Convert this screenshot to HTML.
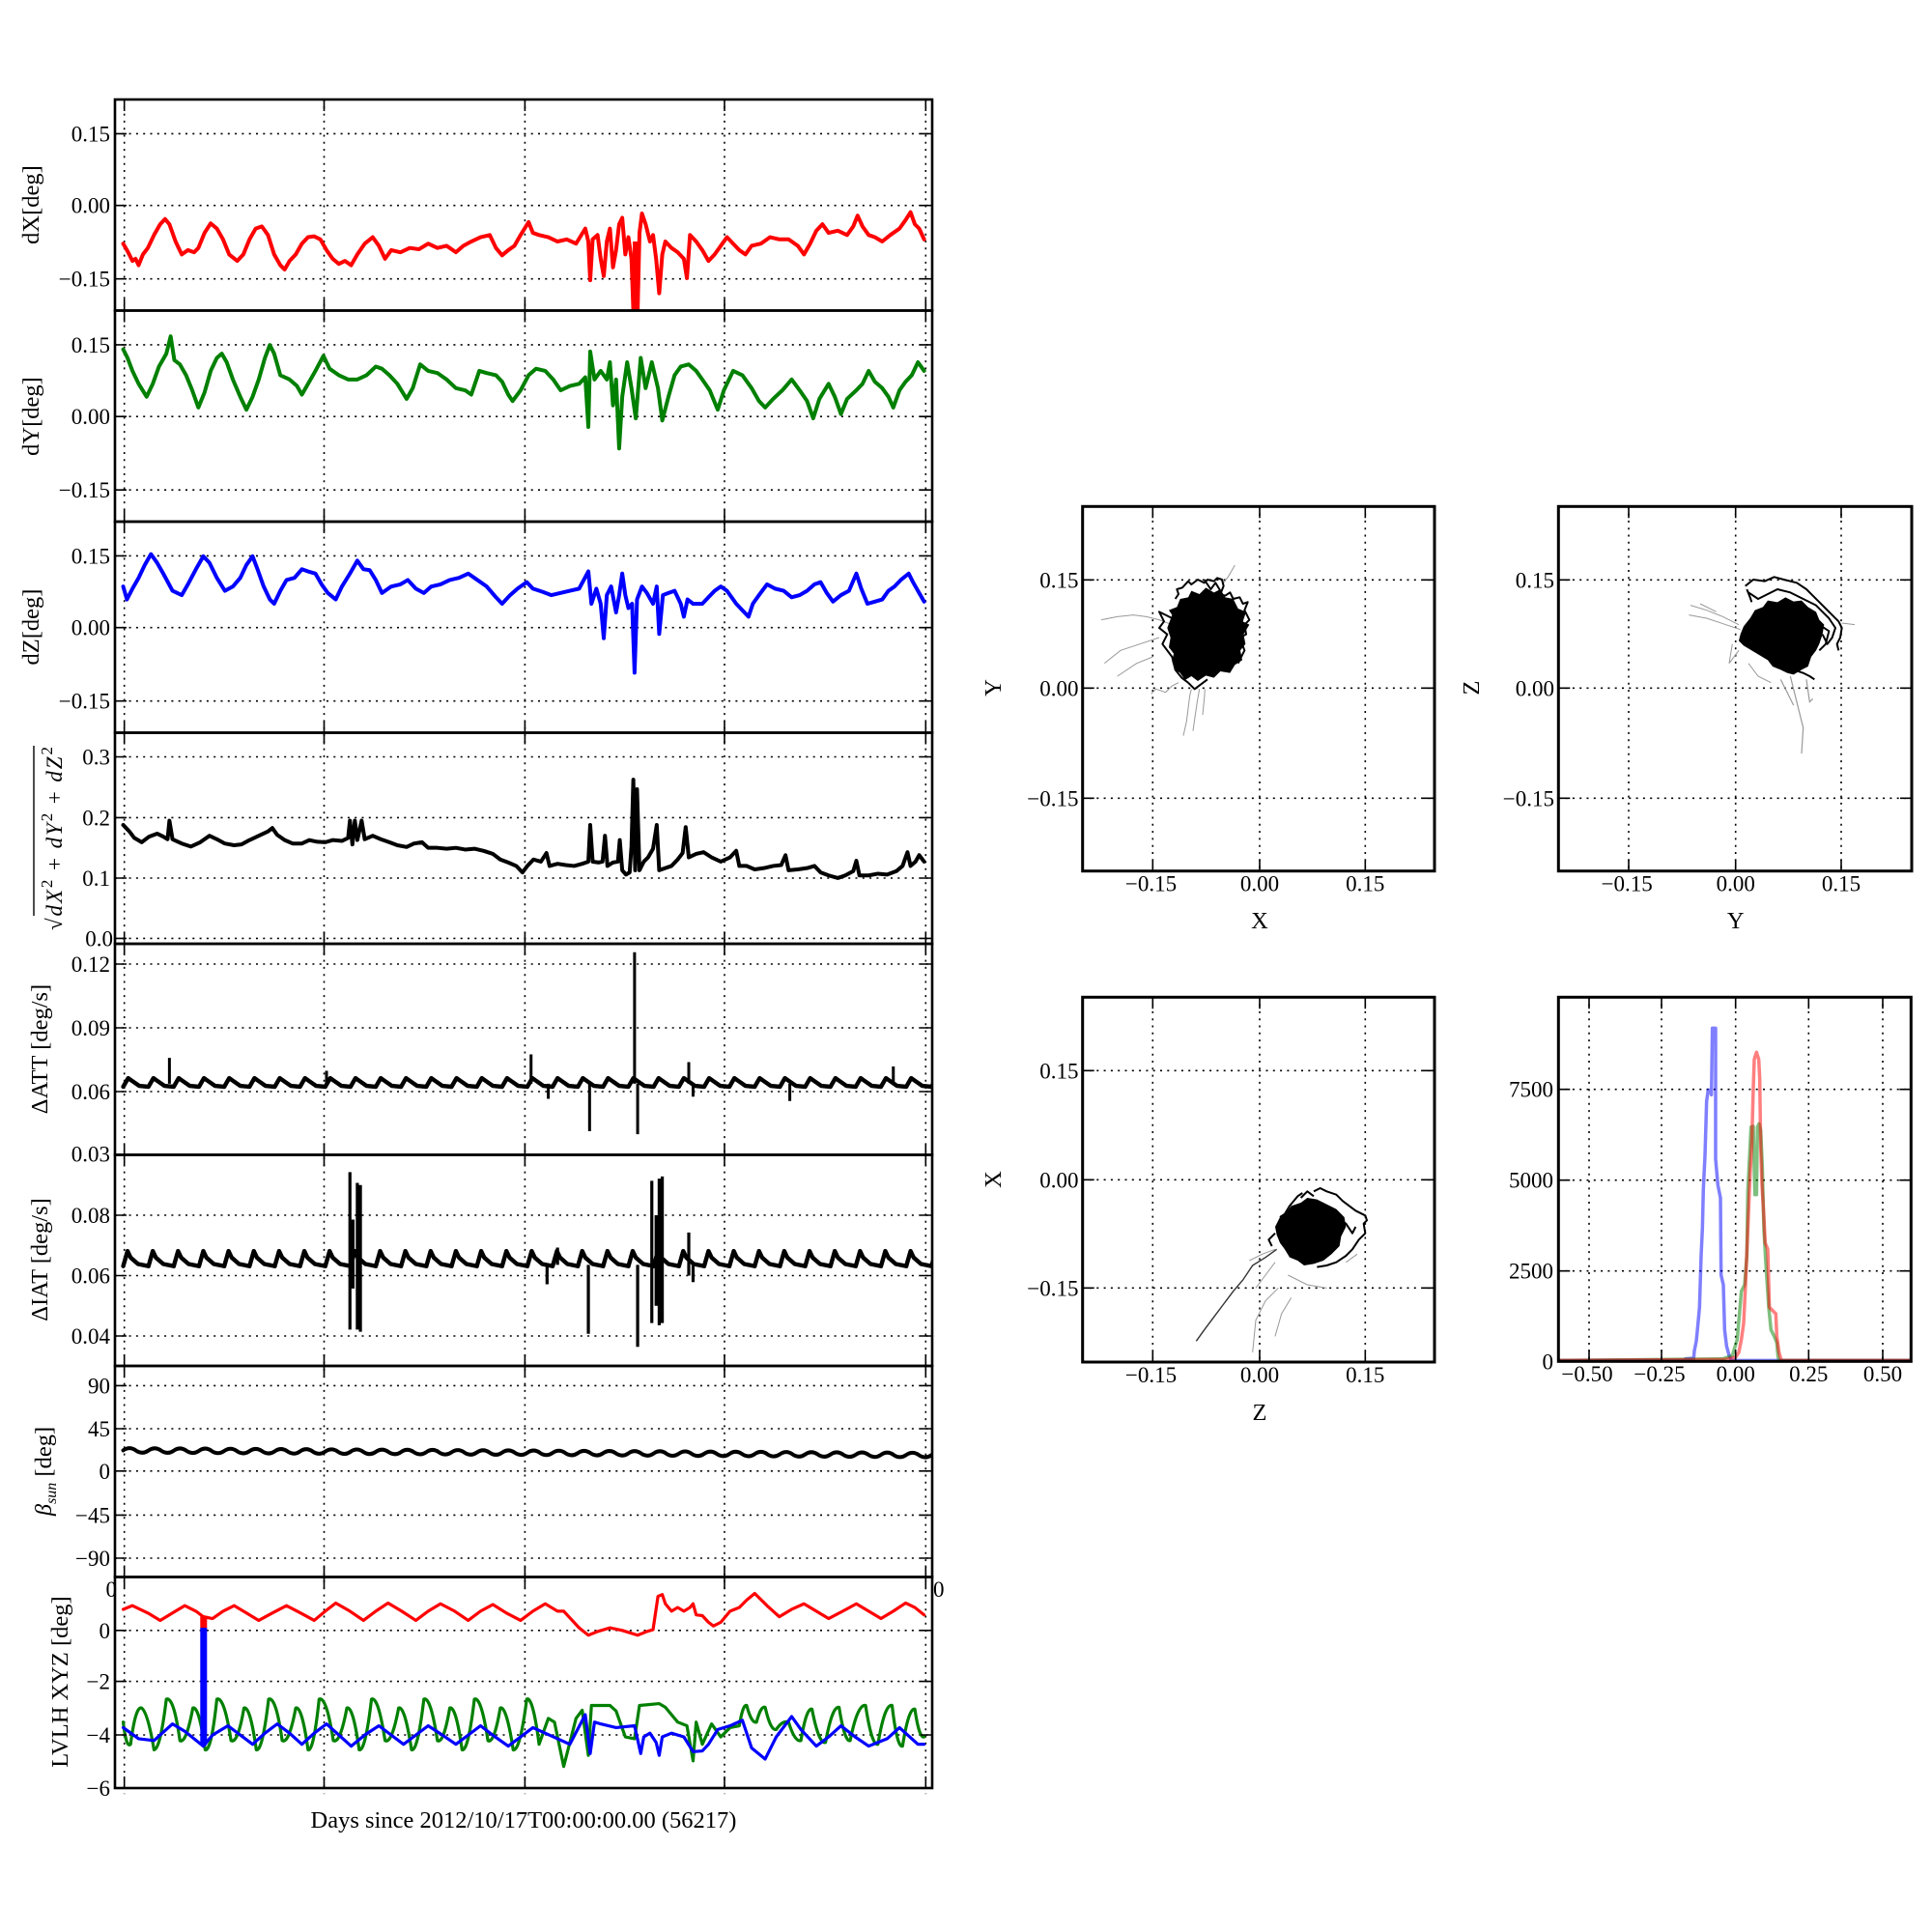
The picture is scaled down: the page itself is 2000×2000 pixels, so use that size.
<!DOCTYPE html>
<html><head><meta charset="utf-8"><style>
html,body{margin:0;padding:0;background:#fff;}
svg{display:block;}
text{font-family:"Liberation Serif","DejaVu Serif",serif;font-size:23px;fill:#000;}
.lb{font-size:24.5px;}
.g{stroke:#000;stroke-width:1.6;stroke-dasharray:2 5.3;fill:none;}
.fr{fill:none;stroke:#000;stroke-width:2.6;}
.tk{stroke:#000;stroke-width:1.6;fill:none;}
.s{fill:none;stroke-linejoin:round;stroke-linecap:round;}
</style></head><body>
<svg width="2000" height="2000" viewBox="0 0 2000 2000" xmlns="http://www.w3.org/2000/svg">
<defs>
<clipPath id="c1"><rect x="119" y="103" width="846" height="218.5"/></clipPath>
<clipPath id="c2"><rect x="119" y="321.5" width="846" height="218.5"/></clipPath>
<clipPath id="c3"><rect x="119" y="540" width="846" height="218.5"/></clipPath>
<clipPath id="c4"><rect x="119" y="758.5" width="846" height="218.5"/></clipPath>
<clipPath id="c5"><rect x="119" y="977" width="846" height="218.5"/></clipPath>
<clipPath id="c6"><rect x="119" y="1195.5" width="846" height="218.5"/></clipPath>
<clipPath id="c7"><rect x="119" y="1414" width="846" height="218.5"/></clipPath>
<clipPath id="c8"><rect x="119" y="1632.5" width="846" height="218.5"/></clipPath>
<clipPath id="cxy"><rect x="1120.7" y="524.3" width="364.3" height="377.4"/></clipPath>
<clipPath id="cyz"><rect x="1613.3" y="524.3" width="365.7" height="377.4"/></clipPath>
<clipPath id="czx"><rect x="1120.7" y="1032.3" width="364.3" height="377.7"/></clipPath>
<clipPath id="ch"><rect x="1613.3" y="1032.3" width="365" height="377"/></clipPath>
</defs>

<!-- ===== MAIN GRIDS ===== -->
<path class="g" d="M128.7,103V1851 M335.5,103V1851 M543.4,103V1851 M750,103V1851 M958.3,103V1851"/>
<path class="g" d="M119,138.4H965 M119,212.7H965 M119,288.7H965 M119,356.9H965 M119,431.2H965 M119,507.2H965 M119,575.4H965 M119,649.7H965 M119,725.7H965 M119,783.5H965 M119,846.4H965 M119,909H965 M119,971.4H965 M119,998H965 M119,1064H965 M119,1130H965 M119,1258H965 M119,1320.5H965 M119,1383H965 M119,1434.4H965 M119,1479H965 M119,1522.8H965 M119,1568.4H965 M119,1613H965 M119,1687.8H965 M119,1740.6H965 M119,1796H965"/>

<!-- ===== SERIES ===== -->
<g clip-path="url(#c1)"><g transform="scale(0.63776,0.44643)">
<path class="s" vector-effect="non-scaling-stroke" stroke="#ff0000" stroke-width="4" d="M200,565 L208,585 L215,605 L220,600 L225,615 L232,590 L240,575 L250,545 L260,520 L268,508 L275,520 L285,560 L295,590 L305,580 L315,585 L322,575 L332,540 L342,518 L352,530 L362,555 L372,590 L385,605 L395,590 L405,555 L415,530 L425,525 L435,545 L445,590 L455,615 L462,625 L470,605 L480,590 L490,565 L500,550 L510,548 L520,555 L530,580 L540,600 L550,612 L560,605 L570,615 L580,590 L592,565 L605,550 L615,570 L625,600 L635,580 L650,585 L665,575 L680,578 L695,565 L710,575 L725,570 L740,585 L752,570 L765,560 L780,550 L795,545 L805,575 L815,592 L825,580 L835,570 L845,545 L858,515 L865,540 L875,545 L890,550 L905,560 L920,555 L935,565 L950,530 L955,560 L958,650 L962,555 L970,545 L975,600 L980,640 L985,560 L990,530 L995,620 L1000,580 L1005,520 L1010,505 L1015,590 L1020,550 L1025,600 L1028,720 L1035,720 L1038,540 L1042,495 L1048,520 L1055,560 L1060,545 L1065,600 L1070,680 L1075,590 L1080,560 L1090,575 L1100,585 L1110,600 L1115,645 L1120,545 L1130,560 L1140,580 L1150,605 L1160,590 L1170,570 L1180,550 L1190,565 L1200,580 L1210,590 L1220,570 L1235,565 L1250,550 L1265,555 L1280,555 L1295,570 L1305,590 L1315,565 L1325,535 L1335,520 L1345,540 L1360,535 L1375,545 L1385,525 L1392,500 L1400,525 L1410,545 L1420,550 L1432,560 L1445,545 L1460,530 L1470,510 L1478,492 L1485,520 L1492,530 L1500,555"/>
<path vector-effect="non-scaling-stroke" stroke="#ff0000" stroke-width="5" d="M1031,560V720"/>
</g></g>

<g clip-path="url(#c2)"><g transform="scale(0.63776,0.44643)">
<path class="s" vector-effect="non-scaling-stroke" stroke="#008000" stroke-width="4" d="M200,810 L207,830 L215,860 L225,890 L238,920 L248,890 L258,850 L270,820 L277,780 L283,835 L292,845 L302,870 L312,905 L322,945 L332,910 L342,860 L352,830 L360,820 L368,840 L378,880 L390,920 L400,950 L410,920 L420,880 L430,830 L438,800 L445,820 L455,870 L470,880 L482,895 L490,915 L500,890 L512,860 L525,825 L535,855 L550,870 L565,880 L580,880 L595,870 L610,850 L620,855 L632,870 L645,890 L660,925 L670,900 L682,845 L695,860 L710,865 L725,880 L740,900 L755,905 L765,915 L778,860 L790,865 L805,870 L815,885 L825,915 L832,930 L845,905 L858,870 L870,855 L885,860 L898,880 L910,905 L925,895 L940,890 L950,875 L955,990 L958,815 L965,880 L975,860 L985,880 L990,840 L995,940 L1000,880 L1005,1040 L1010,920 L1018,840 L1025,900 L1032,970 L1040,830 L1048,900 L1058,840 L1068,900 L1075,975 L1085,920 L1095,870 L1105,850 L1118,845 L1130,860 L1140,880 L1152,905 L1165,950 L1175,905 L1190,860 L1205,870 L1220,900 L1232,930 L1242,945 L1255,925 L1270,905 L1285,880 L1298,905 L1310,930 L1320,970 L1330,925 L1345,890 L1355,920 L1365,960 L1375,925 L1390,905 L1400,890 L1410,860 L1420,885 L1432,900 L1442,920 L1450,945 L1460,905 L1470,885 L1480,870 L1490,840 L1500,860"/>
</g></g>

<g clip-path="url(#c3)"><g transform="scale(0.63776,0.44643)">
<path class="s" vector-effect="non-scaling-stroke" stroke="#0000ff" stroke-width="4" d="M200,1360 L206,1390 L215,1365 L225,1340 L235,1310 L245,1285 L255,1305 L265,1330 L280,1370 L295,1380 L305,1355 L318,1320 L330,1290 L340,1305 L352,1340 L365,1370 L378,1360 L390,1340 L400,1310 L410,1290 L418,1320 L428,1360 L438,1390 L445,1400 L455,1370 L465,1345 L478,1340 L490,1320 L500,1325 L512,1330 L522,1355 L532,1375 L545,1390 L555,1360 L568,1330 L580,1300 L590,1320 L600,1322 L610,1345 L620,1375 L635,1360 L650,1355 L662,1345 L675,1365 L688,1375 L700,1360 L715,1355 L730,1345 L745,1340 L760,1330 L775,1345 L790,1360 L805,1385 L815,1400 L828,1380 L840,1365 L855,1350 L865,1365 L880,1372 L895,1380 L910,1375 L925,1370 L940,1365 L955,1325 L960,1400 L968,1365 L975,1400 L980,1480 L985,1380 L992,1360 L1000,1420 L1005,1380 L1010,1330 L1015,1380 L1020,1410 L1026,1400 L1030,1560 L1034,1390 L1042,1360 L1050,1375 L1060,1400 L1066,1360 L1070,1470 L1076,1380 L1085,1375 L1095,1370 L1105,1400 L1110,1430 L1116,1390 L1125,1400 L1140,1400 L1150,1385 L1160,1370 L1170,1360 L1180,1370 L1195,1400 L1205,1415 L1215,1430 L1222,1400 L1232,1380 L1245,1355 L1258,1365 L1272,1370 L1285,1385 L1298,1380 L1310,1370 L1322,1355 L1332,1350 L1342,1375 L1352,1395 L1365,1380 L1378,1370 L1390,1330 L1398,1365 L1408,1400 L1420,1395 L1432,1390 L1442,1370 L1452,1360 L1462,1345 L1475,1330 L1482,1350 L1492,1375 L1500,1395"/>
</g></g>

<g clip-path="url(#c4)"><g transform="translate(0,700) scale(0.63776,0.44643)">
<path class="s" vector-effect="non-scaling-stroke" stroke="#000" stroke-width="4" d="M200,345 L210,360 L218,375 L230,385 L242,372 L255,365 L265,372 L272,378 L275,335 L280,378 L295,388 L310,395 L325,385 L340,370 L352,378 L365,388 L380,392 L392,390 L405,380 L420,370 L435,360 L442,352 L450,368 L462,380 L475,388 L490,388 L502,380 L515,384 L528,385 L540,380 L555,382 L565,375 L568,335 L572,390 L576,335 L580,380 L587,335 L592,378 L605,370 L618,378 L632,385 L645,392 L660,396 L672,388 L685,385 L695,398 L710,398 L725,400 L740,398 L755,402 L770,400 L785,405 L800,412 L812,425 L825,432 L838,440 L848,455 L856,440 L866,425 L878,430 L887,410 L892,440 L905,435 L918,438 L932,440 L945,435 L955,430 L958,345 L962,430 L972,432 L978,430 L982,370 L986,440 L995,432 L1003,430 L1006,380 L1010,450 L1016,460 L1022,455 L1025,395 L1028,240 L1031,450 L1034,262 L1038,450 L1045,430 L1052,420 L1060,400 L1066,345 L1070,450 L1080,445 L1090,440 L1100,425 L1108,410 L1113,350 L1118,420 L1130,412 L1142,408 L1155,420 L1170,430 L1185,420 L1195,405 L1200,440 L1212,440 L1225,448 L1240,445 L1255,440 L1268,438 L1275,415 L1280,450 L1295,448 L1310,445 L1322,440 L1332,455 L1345,462 L1360,468 L1372,462 L1385,452 L1390,428 L1395,462 L1410,462 L1425,458 L1440,460 L1455,452 L1465,440 L1473,408 L1478,440 L1486,430 L1492,415 L1500,430"/>
</g></g>

<g clip-path="url(#c5)"><g transform="translate(0,700) scale(0.63776,0.44643)">
<path class="s" vector-effect="non-scaling-stroke" stroke="#000" stroke-width="4.4" d="M200,952 l8,-20 l6,6 l12,12 l15,2 l8,-20 l6,6 l12,12 l15,2 l8,-20 l6,6 l12,12 l15,2 l8,-20 l6,6 l12,12 l15,2 l8,-20 l6,6 l12,12 l15,2 l8,-20 l6,6 l12,12 l15,2 l8,-20 l6,6 l12,12 l15,2 l8,-20 l6,6 l12,12 l15,2 l8,-20 l6,6 l12,12 l15,2 l8,-20 l6,6 l12,12 l15,2 l8,-20 l6,6 l12,12 l15,2 l8,-20 l6,6 l12,12 l15,2 l8,-20 l6,6 l12,12 l15,2 l8,-20 l6,6 l12,12 l15,2 l8,-20 l6,6 l12,12 l15,2 l8,-20 l6,6 l12,12 l15,2 l8,-20 l6,6 l12,12 l15,2 l8,-20 l6,6 l12,12 l15,2 l8,-20 l6,6 l12,12 l15,2 l8,-20 l6,6 l12,12 l15,2 l8,-20 l6,6 l12,12 l15,2 l8,-20 l6,6 l12,12 l15,2 l8,-20 l6,6 l12,12 l15,2 l8,-20 l6,6 l12,12 l15,2 l8,-20 l6,6 l12,12 l15,2 l8,-20 l6,6 l12,12 l15,2 l8,-20 l6,6 l12,12 l15,2 l8,-20 l6,6 l12,12 l15,2 l8,-20 l6,6 l12,12 l15,2 l8,-20 l6,6 l12,12 l15,2 l8,-20 l6,6 l12,12 l15,2 l8,-20 l6,6 l12,12 l15,2 l8,-20 l6,6 l12,12 l15,2"/>
<path vector-effect="non-scaling-stroke" stroke="#000" stroke-width="3" fill="none" d="M275,945V885 M530,945V915 M862,945V877 M890,945V980 M957,945V1055 M1030,945V640 M1035,945V1062 M1118,945V895 M1125,945V975 M1282,945V985 M1450,945V905"/>
</g></g>

<g clip-path="url(#c6)"><g transform="translate(0,700) scale(0.63776,0.44643)">
<path class="s" vector-effect="non-scaling-stroke" stroke="#000" stroke-width="4.4" d="M200,1368 l7,-35 l5,15 l12,15 l17,5 l7,-35 l5,15 l12,15 l17,5 l7,-35 l5,15 l12,15 l17,5 l7,-35 l5,15 l12,15 l17,5 l7,-35 l5,15 l12,15 l17,5 l7,-35 l5,15 l12,15 l17,5 l7,-35 l5,15 l12,15 l17,5 l7,-35 l5,15 l12,15 l17,5 l7,-35 l5,15 l12,15 l17,5 l7,-35 l5,15 l12,15 l17,5 l7,-35 l5,15 l12,15 l17,5 l7,-35 l5,15 l12,15 l17,5 l7,-35 l5,15 l12,15 l17,5 l7,-35 l5,15 l12,15 l17,5 l7,-35 l5,15 l12,15 l17,5 l7,-35 l5,15 l12,15 l17,5 l7,-35 l5,15 l12,15 l17,5 l7,-35 l5,15 l12,15 l17,5 l7,-35 l5,15 l12,15 l17,5 l7,-35 l5,15 l12,15 l17,5 l7,-35 l5,15 l12,15 l17,5 l7,-35 l5,15 l12,15 l17,5 l7,-35 l5,15 l12,15 l17,5 l7,-35 l5,15 l12,15 l17,5 l7,-35 l5,15 l12,15 l17,5 l7,-35 l5,15 l12,15 l17,5 l7,-35 l5,15 l12,15 l17,5 l7,-35 l5,15 l12,15 l17,5 l7,-35 l5,15 l12,15 l17,5 l7,-35 l5,15 l12,15 l17,5 l7,-35 l5,15 l12,15 l17,5 l7,-35 l5,15 l12,15 l17,5 l7,-35 l5,15 l12,15 l17,5 l7,-35 l5,15 l12,15 l17,5"/>
<path vector-effect="non-scaling-stroke" stroke="#000" stroke-width="3.2" fill="none" d="M568,1150V1515 M573,1260V1420 M580,1175V1515 M585,1180V1520 M888,1365V1410 M905,1365V1325 M955,1365V1525 M1035,1365V1555 M1058,1170V1500 M1065,1250V1460 M1070,1165V1505 M1075,1160V1500 M1118,1290V1390 M1125,1365V1405"/>
</g></g>

<g clip-path="url(#c7)"><g transform="translate(0,1400) scale(0.63776,0.38270)">
<path class="s" vector-effect="non-scaling-stroke" stroke="#000" stroke-width="4" d="M200,265 q10.25,-12 20.5,0.2 q10.25,12 20.5,0.2 q10.25,-12 20.5,0.2 q10.25,12 20.5,0.2 q10.25,-12 20.5,0.2 q10.25,12 20.5,0.2 q10.25,-12 20.5,0.2 q10.25,12 20.5,0.2 q10.25,-12 20.5,0.2 q10.25,12 20.5,0.2 q10.25,-12 20.5,0.2 q10.25,12 20.5,0.2 q10.25,-12 20.5,0.2 q10.25,12 20.5,0.2 q10.25,-12 20.5,0.2 q10.25,12 20.5,0.2 q10.25,-12 20.5,0.2 q10.25,12 20.5,0.2 q10.25,-12 20.5,0.2 q10.25,12 20.5,0.2 q10.25,-12 20.5,0.2 q10.25,12 20.5,0.2 q10.25,-12 20.5,0.2 q10.25,12 20.5,0.2 q10.25,-12 20.5,0.2 q10.25,12 20.5,0.2 q10.25,-12 20.5,0.2 q10.25,12 20.5,0.2 q10.25,-12 20.5,0.2 q10.25,12 20.5,0.2 q10.25,-12 20.5,0.2 q10.25,12 20.5,0.2 q10.25,-12 20.5,0.2 q10.25,12 20.5,0.2 q10.25,-12 20.5,0.2 q10.25,12 20.5,0.2 q10.25,-12 20.5,0.2 q10.25,12 20.5,0.2 q10.25,-12 20.5,0.2 q10.25,12 20.5,0.2 q10.25,-12 20.5,0.2 q10.25,12 20.5,0.2 q10.25,-12 20.5,0.2 q10.25,12 20.5,0.2 q10.25,-12 20.5,0.2 q10.25,12 20.5,0.2 q10.25,-12 20.5,0.2 q10.25,12 20.5,0.2 q10.25,-12 20.5,0.2 q10.25,12 20.5,0.2 q10.25,-12 20.5,0.2 q10.25,12 20.5,0.2 q10.25,-12 20.5,0.2 q10.25,12 20.5,0.2 q10.25,-12 20.5,0.2 q10.25,12 20.5,0.2 q10.25,-12 20.5,0.2 q10.25,12 20.5,0.2 q10.25,-12 20.5,0.2 q10.25,12 20.5,0.2 q10.25,-12 20.5,0.2 q10.25,12 20.5,0.2 q10.25,-12 20.5,0.2 q10.25,12 20.5,0.2 q10.25,-12 20.5,0.2 q10.25,12 20.5,0.2"/>
</g></g>

<g clip-path="url(#c8)"><g transform="translate(0,1400) scale(0.63776,0.38270)">
<path class="s" vector-effect="non-scaling-stroke" stroke="#008000" stroke-width="3.2" d="M200,1000 Q205,1072 212,1060 Q220,955 230,962 Q240,975 250,1075 Q260,1075 270,938 Q282,930 292,1050 Q302,1060 313,962 Q323,955 333,1075 Q343,1080 352,938 Q364,930 375,1050 Q386,1060 396,962 Q406,955 416,1075 Q426,1080 436,938 Q448,930 458,1050 Q469,1060 480,962 Q490,955 500,1075 Q509,1080 518,938 Q530,930 541,1050 Q552,1060 563,962 Q573,955 583,1075 Q593,1080 603,938 Q614,930 625,1050 Q636,1060 647,962 Q657,955 668,1075 Q678,1080 688,938 Q699,930 710,1050 Q720,1060 730,962 Q740,955 750,1075 Q760,1080 770,938 Q781,930 792,1050 Q802,1060 812,962 Q822,955 833,1075 Q844,1080 855,938 Q865,930 875,1060 L890,990 L900,1000 L915,1120 L935,990 L945,968 L955,1090 L960,955 L990,955 L1000,970 L1015,1040 L1030,1045 L1038,955 L1070,950 L1080,960 L1100,1000 L1115,1010 L1125,1105 L1130,1000 L1140,1060 L1155,1005 L1170,1040 L1185,1015 L1200,1010 Q1206,950 1212,955 Q1220,1005 1228,1000 Q1235,955 1242,960 Q1251,1025 1260,1020 Q1270,995 1280,1000 Q1290,1055 1300,1050 Q1309,960 1318,965 Q1329,1060 1340,1055 Q1351,955 1362,960 Q1371,1055 1380,1050 Q1392,950 1405,955 Q1415,1065 1425,1060 Q1436,950 1448,955 Q1456,1070 1465,1065 Q1475,960 1485,965 Q1492,1045 1500,1040"/>
<path class="s" vector-effect="non-scaling-stroke" stroke="#0000ff" stroke-width="3.2" d="M200,1015 L225,1045 L250,1050 L280,1005 L300,1025 L330,1065 L345,1035 L370,1010 L390,1035 L410,1060 L430,1030 L450,1005 L470,1030 L490,1060 L510,1030 L530,1005 L550,1035 L570,1065 L592,1035 L615,1010 L635,1035 L655,1060 L675,1035 L695,1010 L718,1035 L740,1060 L760,1035 L780,1010 L802,1038 L825,1065 L845,1040 L865,1015 L885,1030 L905,1045 L925,1060 L950,980 L958,1085 L965,1000 L975,1005 L1000,1015 L1030,1010 L1040,1085 L1045,1040 L1055,1030 L1065,1055 L1070,1090 L1075,1040 L1090,1030 L1110,1040 L1125,1080 L1140,1078 L1150,1060 L1165,1020 L1185,1010 L1205,995 L1220,1070 L1242,1100 L1260,1040 L1285,985 L1300,1020 L1325,1065 L1345,1040 L1365,1010 L1388,1040 L1410,1065 L1440,1045 L1460,1015 L1490,1060 L1500,1060"/>
<path class="s" vector-effect="non-scaling-stroke" stroke="#ff0000" stroke-width="3.2" d="M200,695 L215,685 L240,705 L260,725 L280,705 L300,685 L318,700 L330,715 L345,720 L362,700 L380,685 L400,705 L420,725 L442,705 L465,685 L488,705 L510,725 L528,700 L545,678 L568,700 L590,725 L610,700 L630,678 L652,700 L675,725 L695,700 L715,680 L738,700 L760,725 L780,700 L800,682 L822,705 L845,725 L865,700 L885,680 L895,690 L905,700 L915,700 L925,718 L940,745 L955,765 L970,755 L990,745 L1010,752 L1035,765 L1050,755 L1060,750 L1068,660 L1075,655 L1080,680 L1090,700 L1100,690 L1110,700 L1120,690 L1125,680 L1130,710 L1140,712 L1150,730 L1158,740 L1170,730 L1185,700 L1200,690 L1212,670 L1225,652 L1245,685 L1265,715 L1285,695 L1305,680 L1325,700 L1345,720 L1368,700 L1390,680 L1410,700 L1430,720 L1450,700 L1470,678 L1485,690 L1500,710"/>
</g>
<rect x="207.3" y="1672.5" width="7" height="13" fill="#ff0000"/>
<rect x="207.3" y="1685" width="7" height="121.5" fill="#0000ff"/>
</g>

<!-- ===== MAIN FRAMES & TICKS ===== -->
<g class="fr">
<rect x="119" y="103" width="846" height="218.5"/>
<rect x="119" y="321.5" width="846" height="218.5"/>
<rect x="119" y="540" width="846" height="218.5"/>
<rect x="119" y="758.5" width="846" height="218.5"/>
<rect x="119" y="977" width="846" height="218.5"/>
<rect x="119" y="1195.5" width="846" height="218.5"/>
<rect x="119" y="1414" width="846" height="218.5"/>
<rect x="119" y="1632.5" width="846" height="218.5"/>
</g>
<path class="tk" d="M128.7,103v12 M128.7,309.5v24 M128.7,528v24 M128.7,746.5v24 M128.7,965v24 M128.7,1183.5v24 M128.7,1402v24 M128.7,1620.5v24 M128.7,1839v12
M335.5,103v12 M335.5,309.5v24 M335.5,528v24 M335.5,746.5v24 M335.5,965v24 M335.5,1183.5v24 M335.5,1402v24 M335.5,1620.5v24 M335.5,1839v12
M543.4,103v12 M543.4,309.5v24 M543.4,528v24 M543.4,746.5v24 M543.4,965v24 M543.4,1183.5v24 M543.4,1402v24 M543.4,1620.5v24 M543.4,1839v12
M750,103v12 M750,309.5v24 M750,528v24 M750,746.5v24 M750,965v24 M750,1183.5v24 M750,1402v24 M750,1620.5v24 M750,1839v12
M958.3,103v12 M958.3,309.5v24 M958.3,528v24 M958.3,746.5v24 M958.3,965v24 M958.3,1183.5v24 M958.3,1402v24 M958.3,1620.5v24 M958.3,1839v12"/>
<path class="tk" d="M119,138.4h12 M119,212.7h12 M119,288.7h12 M119,356.9h12 M119,431.2h12 M119,507.2h12 M119,575.4h12 M119,649.7h12 M119,725.7h12 M119,783.5h12 M119,846.4h12 M119,909h12 M119,971.4h12 M119,998h12 M119,1064h12 M119,1130h12 M119,1258h12 M119,1320.5h12 M119,1383h12 M119,1434.4h12 M119,1479h12 M119,1522.8h12 M119,1568.4h12 M119,1613h12 M119,1687.8h12 M119,1740.6h12 M119,1796h12
M965,138.4h-12 M965,212.7h-12 M965,288.7h-12 M965,356.9h-12 M965,431.2h-12 M965,507.2h-12 M965,575.4h-12 M965,649.7h-12 M965,725.7h-12 M965,783.5h-12 M965,846.4h-12 M965,909h-12 M965,971.4h-12 M965,998h-12 M965,1064h-12 M965,1130h-12 M965,1258h-12 M965,1320.5h-12 M965,1383h-12 M965,1434.4h-12 M965,1479h-12 M965,1522.8h-12 M965,1568.4h-12 M965,1613h-12 M965,1687.8h-12 M965,1740.6h-12 M965,1796h-12"/>

<!-- main tick labels -->
<g text-anchor="end">
<text x="114" y="146.4">0.15</text><text x="114" y="220.7">0.00</text><text x="114" y="296.7">−0.15</text>
<text x="114" y="364.9">0.15</text><text x="114" y="439.2">0.00</text><text x="114" y="515.2">−0.15</text>
<text x="114" y="583.4">0.15</text><text x="114" y="657.7">0.00</text><text x="114" y="733.7">−0.15</text>
<text x="114" y="791.5">0.3</text><text x="114" y="854.4">0.2</text><text x="114" y="917">0.1</text><text x="117" y="979.4">0.0</text>
<text x="114" y="1006">0.12</text><text x="114" y="1072">0.09</text><text x="114" y="1138">0.06</text><text x="114" y="1202.6">0.03</text>
<text x="114" y="1266">0.08</text><text x="114" y="1328.5">0.06</text><text x="114" y="1391">0.04</text>
<text x="114" y="1442.4">90</text><text x="114" y="1487">45</text><text x="114" y="1530.8">0</text><text x="114" y="1576.4">−45</text><text x="114" y="1621">−90</text>
<text x="121" y="1653">0</text><text x="114" y="1695.8">0</text><text x="114" y="1748.6">−2</text><text x="114" y="1804">−4</text><text x="114" y="1858.8">−6</text>
</g>
<text x="966" y="1653">0</text>

<!-- main y labels -->
<text class="lb" transform="translate(32,212) rotate(-90)" text-anchor="middle" y="8">dX[deg]</text>
<text class="lb" transform="translate(32,431) rotate(-90)" text-anchor="middle" y="8">dY[deg]</text>
<text class="lb" transform="translate(32,649) rotate(-90)" text-anchor="middle" y="8">dZ[deg]</text>
<g transform="translate(64,868) rotate(-90)">
<text x="-95" y="0" font-size="25" textLength="190" lengthAdjust="spacing"><tspan>√</tspan><tspan font-style="italic">dX</tspan><tspan dy="-10" font-size="17">2</tspan><tspan dy="10"> + </tspan><tspan font-style="italic">dY</tspan><tspan dy="-10" font-size="17">2</tspan><tspan dy="10"> + </tspan><tspan font-style="italic">dZ</tspan><tspan dy="-10" font-size="17">2</tspan></text>
<path d="M-80,-29H96" stroke="#000" stroke-width="1.4"/>
</g>
<text class="lb" transform="translate(41,1086) rotate(-90)" text-anchor="middle" y="8">ΔATT [deg/s]</text>
<text class="lb" transform="translate(41,1304) rotate(-90)" text-anchor="middle" y="8">ΔIAT [deg/s]</text>
<text class="lb" transform="translate(45,1523) rotate(-90)" text-anchor="middle" y="8"><tspan font-style="italic">β</tspan><tspan font-style="italic" font-size="16" dy="5">sun</tspan><tspan dy="-5"> [deg]</tspan></text>
<text class="lb" transform="translate(62,1741) rotate(-90)" text-anchor="middle" y="8">LVLH XYZ [deg]</text>

<text class="lb" x="542" y="1892" text-anchor="middle">Days since 2012/10/17T00:00:00.00 (56217)</text>
<g fill="#bbb"><rect x="127.7" y="1856" width="2" height="1.5"/><rect x="334.5" y="1856" width="2" height="1.5"/><rect x="542.4" y="1856" width="2" height="1.5"/><rect x="749" y="1856" width="2" height="1.5"/><rect x="957.3" y="1856" width="2" height="1.5"/></g>

<!-- ===== XY SCATTER ===== -->
<path class="g" d="M1193.3,524.3V901.7 M1304,524.3V901.7 M1413.3,524.3V901.7 M1120.7,600.3H1485 M1120.7,712.3H1485 M1120.7,826.3H1485"/>
<g clip-path="url(#cxy)"><g transform="translate(1000,500) scale(0.33333)">
<g fill="none" stroke="#999">
<path vector-effect="non-scaling-stroke" stroke-width="1" d="M420,425 L470,415 L520,410 L560,415 L600,425 L640,440"/>
<path vector-effect="non-scaling-stroke" stroke-width="1" d="M575,655 L590,640 L620,650 L640,630 L660,620 M430,560 L480,520 L540,500 L600,480 M470,600 L530,560 L580,540"/>
<path vector-effect="non-scaling-stroke" stroke-width="1" d="M675,785 L685,740 L690,700 L695,660 L700,640 M705,770 L712,720 L718,680 L725,640 M735,720 L740,670 L742,640 M835,255 L815,290 L800,310"/>
</g>
<path fill="#000" d="M625,450 L640,410 L630,395 L655,385 L665,360 L690,355 L700,335 L725,345 L745,325 L770,340 L790,330 L805,355 L830,360 L845,390 L870,400 L860,430 L880,440 L862,470 L868,500 L852,520 L858,550 L835,565 L820,590 L790,585 L770,605 L745,598 L720,615 L700,600 L680,612 L665,590 L650,580 L640,555 L645,530 L630,510 L635,480 Z"/>
<g fill="none" stroke="#000" stroke-linejoin="round">
<path vector-effect="non-scaling-stroke" stroke-width="2" d="M650,360 L660,345 L655,330 L672,325 L690,305 L700,315 L720,300 L740,310 L750,300 L770,305 L780,295 L795,300 L800,320 L790,345 L805,350 L820,340 L830,360 L850,355 L860,375 L875,370 L865,395 L880,425 L865,440 L870,470 L850,480 L865,520 L845,560"/>
<path vector-effect="non-scaling-stroke" stroke-width="2" d="M640,420 L620,410 L600,400 L615,430 L600,450 L625,470 L610,500 L640,540 L650,580 L670,605 L690,620"/>
<path vector-effect="non-scaling-stroke" stroke-width="2" d="M740,300 L760,330 L775,310 L790,335 M690,620 L710,640 L730,625 L750,610"/>
</g>
</g></g>
<rect class="fr" x="1120.7" y="524.3" width="364.3" height="377.4" style="stroke-width:3"/>
<path class="tk" d="M1193.3,524.3v12 M1304,524.3v12 M1413.3,524.3v12 M1193.3,901.7v-12 M1304,901.7v-12 M1413.3,901.7v-12 M1120.7,600.3h12 M1120.7,712.3h12 M1120.7,826.3h12 M1485,600.3h-12 M1485,712.3h-12 M1485,826.3h-12"/>
<g text-anchor="middle"><text x="1191.5" y="922.7">−0.15</text><text x="1304" y="922.7">0.00</text><text x="1413.3" y="922.7">0.15</text></g>
<g text-anchor="end"><text x="1116.5" y="608.3">0.15</text><text x="1116.5" y="720.3">0.00</text><text x="1116.5" y="834.3">−0.15</text></g>
<text class="lb" x="1304" y="961" text-anchor="middle">X</text>
<text class="lb" transform="translate(1028,712) rotate(-90)" text-anchor="middle" y="8">Y</text>

<!-- ===== YZ SCATTER ===== -->
<path class="g" d="M1686,524.3V901.7 M1796.7,524.3V901.7 M1906,524.3V901.7 M1613.3,600.3H1979 M1613.3,712.3H1979 M1613.3,826.3H1979"/>
<g clip-path="url(#cyz)"><g transform="translate(1500,500) scale(0.33333)">
<g fill="none" stroke="#999">
<path vector-effect="non-scaling-stroke" stroke-width="1" d="M750,380 L800,395 L850,415 L900,440 M745,410 L800,420 L860,440 L905,455 M780,375 L830,400 M1220,435 L1260,440 M880,500 L870,560 L900,520 M930,560 L960,600 L1000,620"/>
<path vector-effect="non-scaling-stroke" stroke-width="1.2" d="M1060,600 L1080,680 L1100,760 L1095,840 M1110,610 L1120,680 L1130,670 M1030,610 L1050,650 L1070,690"/>
</g>
<path fill="#000" d="M905,470 L915,445 L935,420 L950,395 L975,385 L990,365 L1020,370 L1045,355 L1070,368 L1095,365 L1115,385 L1140,400 L1150,425 L1165,440 L1160,470 L1150,500 L1140,520 L1125,540 L1115,570 L1095,580 L1070,595 L1050,590 L1030,580 L1005,570 L990,550 L965,535 L940,520 L915,505 L900,490 Z"/>
<g fill="none" stroke="#000" stroke-linejoin="round">
<path vector-effect="non-scaling-stroke" stroke-width="2" d="M920,320 L945,300 L980,305 L1010,292 L1040,300 L1080,310 L1110,330 L1130,350 L1150,370 L1170,390 L1190,410 L1210,430 L1220,450 L1215,480 L1205,500 L1210,520"/>
<path vector-effect="non-scaling-stroke" stroke-width="2" d="M930,340 L960,360 L990,345 L1020,330 L1060,340 L1100,360 L1140,380 L1180,420 L1200,450 L1190,480 L1175,500 L1160,470 M1050,560 L1070,580 L1100,590 L1120,600 L1135,610 M940,370 L935,355 L925,330 M1150,440 L1180,460 L1170,500 L1150,520"/>
</g>
</g></g>
<rect class="fr" x="1613.3" y="524.3" width="365.7" height="377.4" style="stroke-width:3"/>
<path class="tk" d="M1686,524.3v12 M1796.7,524.3v12 M1906,524.3v12 M1686,901.7v-12 M1796.7,901.7v-12 M1906,901.7v-12 M1613.3,600.3h12 M1613.3,712.3h12 M1613.3,826.3h12 M1979,600.3h-12 M1979,712.3h-12 M1979,826.3h-12"/>
<g text-anchor="middle"><text x="1684.2" y="922.7">−0.15</text><text x="1796.7" y="922.7">0.00</text><text x="1906" y="922.7">0.15</text></g>
<g text-anchor="end"><text x="1609" y="608.3">0.15</text><text x="1609" y="720.3">0.00</text><text x="1609" y="834.3">−0.15</text></g>
<text class="lb" x="1796.7" y="961" text-anchor="middle">Y</text>
<text class="lb" transform="translate(1523,712) rotate(-90)" text-anchor="middle" y="8">Z</text>

<!-- ===== ZX SCATTER ===== -->
<path class="g" d="M1193.3,1032.3V1410 M1304,1032.3V1410 M1413.3,1032.3V1410 M1120.7,1108.3H1485 M1120.7,1221.3H1485 M1120.7,1333.3H1485"/>
<g clip-path="url(#czx)"><g transform="translate(1000,1000) scale(0.33333)">
<g fill="none" stroke="#999">
<path vector-effect="non-scaling-stroke" stroke-width="1" d="M880,915 L920,895 L960,880 M900,1000 L930,960 L960,920 M890,1200 L900,1100 L930,1040 L970,1000 M960,1150 L980,1080 L1010,1030 M1000,960 L1060,990 L1120,1000 M1180,920 L1215,895"/>
</g>
<path fill="none" stroke="#333" vector-effect="non-scaling-stroke" stroke-width="1.4" d="M715,1165 L740,1130 L770,1090 L800,1050 L830,1010 L860,975 L890,930 L930,905 L965,880"/>
<path fill="#000" d="M960,810 L975,780 L995,765 L1010,745 L1040,735 L1060,720 L1090,725 L1120,740 L1150,755 L1175,780 L1180,810 L1165,840 L1160,870 L1135,895 L1110,915 L1080,925 L1050,930 L1030,915 L1005,905 L990,880 L975,860 L965,835 Z"/>
<g fill="none" stroke="#000" stroke-linejoin="round">
<path vector-effect="non-scaling-stroke" stroke-width="2" d="M1080,700 L1100,690 L1120,700 L1150,710 L1170,730 L1190,745 L1210,760 L1240,775 L1245,790 L1235,800 L1240,830 L1220,850 L1200,880 L1180,900 L1150,920 L1120,930 L1090,935"/>
<path vector-effect="non-scaling-stroke" stroke-width="2" d="M1040,720 L1060,700 L1080,715 M1150,780 L1180,800 L1200,830 L1210,810 M975,780 L990,770 L1005,745 L1030,715 L1045,705 M960,830 L940,850 L950,870"/>
</g>
</g></g>
<rect class="fr" x="1120.7" y="1032.3" width="364.3" height="377.7" style="stroke-width:3"/>
<path class="tk" d="M1193.3,1032.3v12 M1304,1032.3v12 M1413.3,1032.3v12 M1193.3,1410v-12 M1304,1410v-12 M1413.3,1410v-12 M1120.7,1108.3h12 M1120.7,1221.3h12 M1120.7,1333.3h12 M1485,1108.3h-12 M1485,1221.3h-12 M1485,1333.3h-12"/>
<g text-anchor="middle"><text x="1191.5" y="1431">−0.15</text><text x="1304" y="1431">0.00</text><text x="1413.3" y="1431">0.15</text></g>
<g text-anchor="end"><text x="1116.5" y="1116.3">0.15</text><text x="1116.5" y="1229.3">0.00</text><text x="1116.5" y="1341.3">−0.15</text></g>
<text class="lb" x="1304" y="1470" text-anchor="middle">Z</text>
<text class="lb" transform="translate(1028,1221) rotate(-90)" text-anchor="middle" y="8">X</text>

<!-- ===== HISTOGRAM ===== -->
<path class="g" d="M1645,1032.3V1409.3 M1720,1032.3V1409.3 M1796.7,1032.3V1409.3 M1872.3,1032.3V1409.3 M1949,1032.3V1409.3 M1613.3,1127.7H1978.3 M1613.3,1221.7H1978.3 M1613.3,1315.7H1978.3"/>
<g clip-path="url(#ch)"><g transform="translate(1500,1000) scale(0.33333)">
<path class="s" vector-effect="non-scaling-stroke" stroke="rgba(0,0,255,0.5)" stroke-width="3.5" d="M340,1225 L730,1225 L735,1220 L760,1218 L762,1195 L768,1165 L772,1125 L778,1060 L783,900 L787,815 L790,690 L795,590 L800,420 L805,385 L812,385 L815,400 L818,193 L828,193 L828,600 L835,680 L843,720 L845,960 L852,990 L856,1130 L862,1180 L870,1210 L878,1225 L1435,1225"/>
<path class="s" vector-effect="non-scaling-stroke" stroke="rgba(0,128,0,0.5)" stroke-width="3.5" d="M340,1225 L850,1220 L880,1210 L895,1160 L902,1080 L908,1010 L918,990 L925,900 L928,700 L933,600 L938,500 L945,498 L950,710 L955,710 L958,500 L963,490 L968,510 L973,620 L978,820 L985,940 L993,1060 L1000,1130 L1010,1150 L1018,1170 L1022,1215 L1025,1225 L1435,1225"/>
<path class="s" vector-effect="non-scaling-stroke" stroke="rgba(255,0,0,0.5)" stroke-width="3.5" d="M340,1225 L860,1222 L890,1215 L900,1200 L908,1160 L915,1110 L920,1010 L925,890 L930,770 L935,650 L940,560 L945,380 L948,290 L955,268 L962,290 L965,350 L968,560 L972,680 L978,780 L982,860 L990,880 L995,1060 L1005,1070 L1015,1080 L1018,1150 L1025,1200 L1032,1225 L1435,1225"/>
</g></g>
<rect class="fr" x="1613.3" y="1032.3" width="365" height="377" style="stroke-width:3"/>
<path class="tk" d="M1645,1032.3v12 M1720,1032.3v12 M1796.7,1032.3v12 M1872.3,1032.3v12 M1949,1032.3v12 M1645,1409.3v-12 M1720,1409.3v-12 M1796.7,1409.3v-12 M1872.3,1409.3v-12 M1949,1409.3v-12 M1613.3,1127.7h12 M1613.3,1221.7h12 M1613.3,1315.7h12 M1978.3,1127.7h-12 M1978.3,1221.7h-12 M1978.3,1315.7h-12"/>
<g text-anchor="middle"><text x="1643" y="1430">−0.50</text><text x="1718" y="1430">−0.25</text><text x="1796.7" y="1430">0.00</text><text x="1872.3" y="1430">0.25</text><text x="1949" y="1430">0.50</text></g>
<g text-anchor="end"><text x="1608" y="1135.7">7500</text><text x="1608" y="1229.7">5000</text><text x="1608" y="1323.7">2500</text><text x="1608" y="1417.3">0</text></g>
</svg>
</body></html>
